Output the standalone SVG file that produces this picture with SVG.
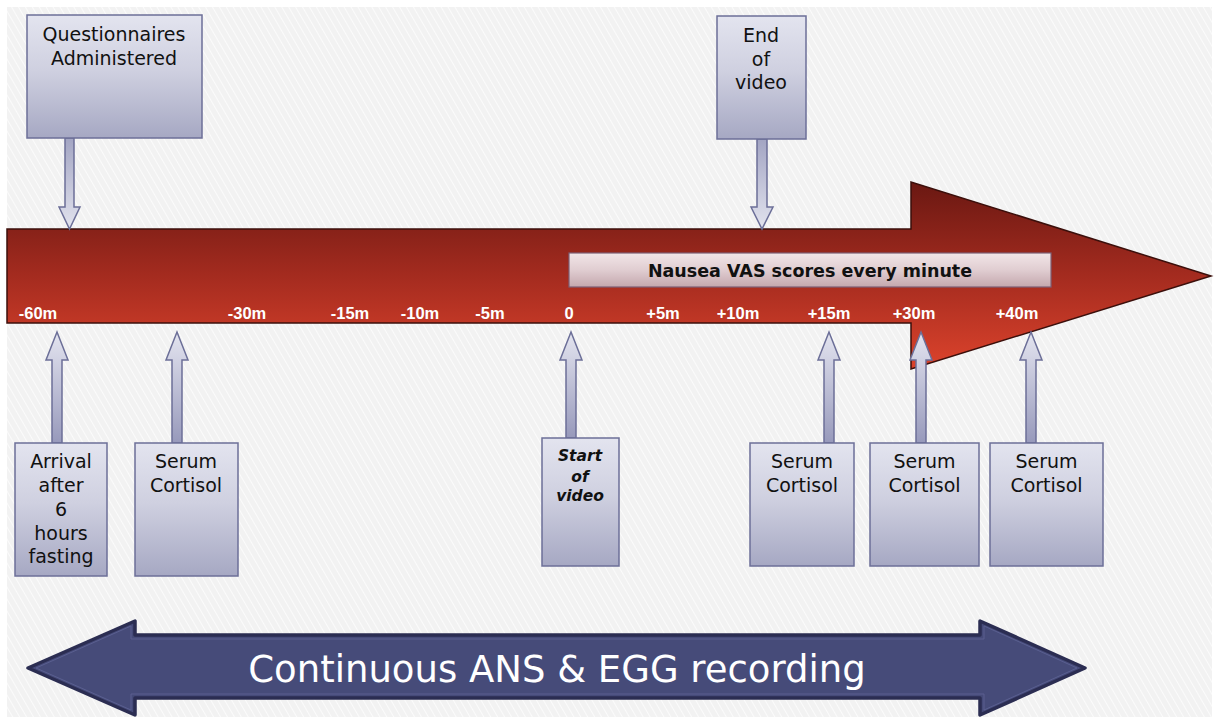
<svg xmlns="http://www.w3.org/2000/svg" width="1217" height="717" viewBox="0 0 1217 717">
  <defs>
    <pattern id="stripes" width="6" height="6" patternUnits="userSpaceOnUse" patternTransform="rotate(-30)">
      <rect width="6" height="6" fill="#f2f2f2"/>
      <line x1="0" y1="0" x2="0" y2="6" stroke="#fbfbfb" stroke-width="2"/>
    </pattern>
    <linearGradient id="redBar" x1="0" y1="0" x2="0" y2="1">
      <stop offset="0" stop-color="#6a1812"/>
      <stop offset="0.5" stop-color="#a42b1f"/>
      <stop offset="1" stop-color="#dc432c"/>
    </linearGradient>
    <linearGradient id="boxFill" x1="0" y1="0" x2="0" y2="1">
      <stop offset="0" stop-color="#e3e4ef"/>
      <stop offset="0.45" stop-color="#cfd0e0"/>
      <stop offset="1" stop-color="#a6a8c3"/>
    </linearGradient>
    <linearGradient id="upFill" x1="0" y1="0" x2="0" y2="1">
      <stop offset="0" stop-color="#e4e5f0"/>
      <stop offset="1" stop-color="#9799bb"/>
    </linearGradient>
    <linearGradient id="downFill" x1="0" y1="0" x2="0" y2="1">
      <stop offset="0" stop-color="#a3a5c3"/>
      <stop offset="1" stop-color="#e2e3ee"/>
    </linearGradient>
    <linearGradient id="pinkFill" x1="0" y1="0" x2="0" y2="1">
      <stop offset="0" stop-color="#f2e6e8"/>
      <stop offset="0.5" stop-color="#e0cdd1"/>
      <stop offset="1" stop-color="#c4a7ad"/>
    </linearGradient>
    <style>
      .box { fill: url(#boxFill); stroke: #6c6f98; stroke-width: 1.5; }
      .lbl { font-family: "DejaVu Sans", "Noto Sans", sans-serif; font-size: 19px; fill: #111; text-anchor: middle; }
      .lblsi { font-family: "DejaVu Sans", sans-serif; font-size: 15.5px; font-weight: bold; font-style: italic; fill: #111; text-anchor: middle; }
      .tick { font-family: "Liberation Sans", Arial, sans-serif; font-size: 16.5px; font-weight: bold; fill: #ffffff; text-anchor: middle; }
      .up { fill: url(#upFill); stroke: #6c6f98; stroke-width: 1.5; stroke-linejoin: miter; }
      .down { fill: url(#downFill); stroke: #6c6f98; stroke-width: 1.5; }
    </style>
  </defs>

  <!-- backdrop -->
  <rect x="0" y="0" width="1217" height="717" fill="#ffffff"/>
  <rect x="7" y="7" width="1205" height="710" fill="url(#stripes)"/>

  <!-- main timeline arrow -->
  <g id="timeline">
    <path d="M7,229 L911,229 L911,182 L1211,276 L911,369 L911,323 L7,323 Z" fill="url(#redBar)" stroke="#3b0f0b" stroke-width="1.5"/>
    <g id="ticks">
      <text class="tick" x="38" y="319">-60m</text>
      <text class="tick" x="247" y="319">-30m</text>
      <text class="tick" x="350" y="319">-15m</text>
      <text class="tick" x="420" y="319">-10m</text>
      <text class="tick" x="490" y="319">-5m</text>
      <text class="tick" x="569" y="319">0</text>
      <text class="tick" x="663" y="319">+5m</text>
      <text class="tick" x="738" y="319">+10m</text>
      <text class="tick" x="829" y="319">+15m</text>
      <text class="tick" x="914" y="319">+30m</text>
      <text class="tick" x="1017" y="319">+40m</text>
    </g>
  </g>

  <!-- nausea scoring band -->
  <g id="nausea">
    <rect x="569" y="253" width="482" height="34" fill="url(#pinkFill)" stroke="#7d5f75" stroke-width="1.2"/>
    <text x="810" y="277" font-family="DejaVu Sans, sans-serif" font-size="17.5" font-weight="bold" fill="#111" text-anchor="middle">Nausea VAS scores every minute</text>
  </g>

  <!-- connectors -->
  <g id="connectors">
    <!-- downward -->
    <path class="down" d="M65,138 L74,138 L74,207 L80,207 L69.5,229 L59,207 L65,207 Z"/>
    <path class="down" d="M757,139 L767,139 L767,207 L773,207 L762,229 L751,207 L757,207 Z"/>
    <!-- upward -->
    <path class="up" d="M52,443 L52,360 L46,360 L57,332 L68,360 L62,360 L62,443 Z"/>
    <path class="up" d="M172,443 L172,360 L166,360 L177,332 L188,360 L182,360 L182,443 Z"/>
    <path class="up" d="M566,438 L566,360 L560,360 L571,332 L582,360 L576,360 L576,438 Z"/>
    <path class="up" d="M824,443 L824,360 L818,360 L829,332 L840,360 L834,360 L834,443 Z"/>
    <path class="up" d="M916,443 L916,360 L910,360 L921,332 L932,360 L926,360 L926,443 Z"/>
    <path class="up" d="M1026,443 L1026,360 L1020,360 L1031,332 L1042,360 L1036,360 L1036,443 Z"/>
  </g>

  <!-- upper event boxes -->
  <g id="questionnaires">
    <rect class="box" x="27" y="15" width="175" height="123"/>
    <text class="lbl" x="114" y="41">Questionnaires</text>
    <text class="lbl" x="114" y="65">Administered</text>
  </g>
  <g id="end-video">
    <rect class="box" x="717" y="16" width="89" height="123"/>
    <text class="lbl" x="761" y="42">End</text>
    <text class="lbl" x="761" y="66">of</text>
    <text class="lbl" x="761" y="89">video</text>
  </g>

  <!-- lower event boxes -->
  <g id="arrival">
    <rect class="box" x="15" y="443" width="92" height="133"/>
    <text class="lbl" x="61" y="468">Arrival</text>
    <text class="lbl" x="61" y="492">after</text>
    <text class="lbl" x="61" y="516">6</text>
    <text class="lbl" x="61" y="540">hours</text>
    <text class="lbl" x="61" y="563">fasting</text>
  </g>
  <g id="cortisol-1">
    <rect class="box" x="135" y="443" width="103" height="133"/>
    <text class="lbl" x="186" y="468">Serum</text>
    <text class="lbl" x="186" y="492">Cortisol</text>
  </g>
  <g id="start-video">
    <rect class="box" x="542" y="438" width="77" height="128"/>
    <text class="lblsi" x="580" y="461">Start</text>
    <text class="lblsi" x="580" y="482">of</text>
    <text class="lblsi" x="580" y="501">video</text>
  </g>
  <g id="cortisol-2">
    <rect class="box" x="750" y="443" width="104" height="123"/>
    <text class="lbl" x="802" y="468">Serum</text>
    <text class="lbl" x="802" y="492">Cortisol</text>
  </g>
  <g id="cortisol-3">
    <rect class="box" x="870" y="443" width="109" height="123"/>
    <text class="lbl" x="924.5" y="468">Serum</text>
    <text class="lbl" x="924.5" y="492">Cortisol</text>
  </g>
  <g id="cortisol-4">
    <rect class="box" x="990" y="443" width="113" height="123"/>
    <text class="lbl" x="1046.5" y="468">Serum</text>
    <text class="lbl" x="1046.5" y="492">Cortisol</text>
  </g>

  <!-- recording span -->
  <g id="recording">
    <path d="M28,668 L135,621 L135,635 L980,635 L980,621 L1085,668 L980,715 L980,698 L135,698 L135,715 Z" fill="#464b79" stroke="#2b2d52" stroke-width="3.5" stroke-linejoin="round"/>
    <path d="M36,668 L131,626 L131,639 L984,639 L984,626 L1077,668 L984,710 L984,694 L131,694 L131,710 Z" fill="none" stroke="#5a5f90" stroke-width="1" stroke-linejoin="round"/>
    <text x="557" y="682" font-family="DejaVu Sans, sans-serif" font-size="37" fill="#ffffff" text-anchor="middle">Continuous ANS &amp; EGG recording</text>
  </g>
</svg>
